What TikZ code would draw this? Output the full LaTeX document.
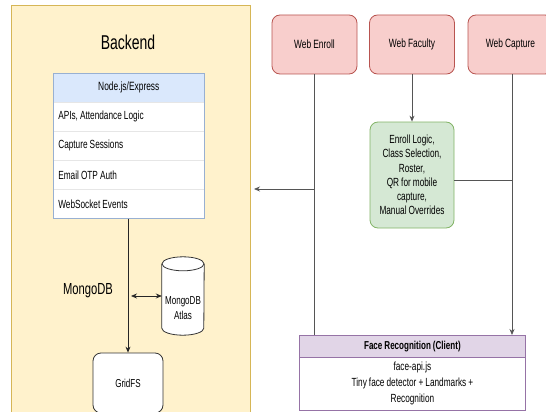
\documentclass[tikz,border=0pt]{standalone}
\usepackage{fontspec}
\setmainfont{Liberation Sans}[FakeStretch=0.7, WordSpace=0.9]
\usetikzlibrary{arrows.meta,calc}
\definecolor{bkfill}{HTML}{FFF2CC}
\definecolor{bkline}{HTML}{D6B656}
\definecolor{redfill}{HTML}{F8CECC}
\definecolor{redline}{HTML}{B85450}
\definecolor{grnfill}{HTML}{D5E8D4}
\definecolor{grnline}{HTML}{82B366}
\definecolor{bluefill}{HTML}{DAE8FC}
\definecolor{blueline}{HTML}{6C8EBF}
\definecolor{purfill}{HTML}{E1D5E7}
\definecolor{purline}{HTML}{9673A6}
\definecolor{rowline}{HTML}{E6E6E6}
\definecolor{conn}{HTML}{555555}
\begin{document}
\begin{tikzpicture}[x=1pt,y=-1pt,
  appbox/.style={draw=redline, fill=redfill, line width=0.8pt, rounded corners=8pt,
    minimum width=85pt, minimum height=59pt, inner sep=0pt, font=\fontsize{12}{14}\selectfont},
  rowbox/.style={draw=rowline, fill=white, line width=0.6pt, minimum width=151pt, minimum height=29pt,
    text width=141pt, inner xsep=5pt, inner ysep=0pt, align=left, anchor=north west,
    font=\fontsize{11.8}{14}\selectfont},
  conline/.style={draw=conn, line width=0.8pt},
  arr/.style={conline, -{Stealth[length=6pt,width=5pt]}},
  darr/.style={draw=black!85, line width=0.8pt, {Stealth[length=6pt,width=5pt]}-{Stealth[length=6pt,width=5pt]}}
]
\useasboundingbox (0,0) rectangle (546,412);

% Backend container
\node[draw=bkline, fill=bkfill, line width=0.8pt, minimum width=239pt, minimum height=420pt,
  anchor=north west, inner sep=0pt] (backend) at (11,5) {};
\node[font=\fontsize{20}{24}\selectfont] (backendtitle) at (128,42) {Backend};

% Node.js/Express table
\node[draw=blueline, fill=bluefill, line width=0.6pt, minimum width=151pt, minimum height=29pt,
  anchor=north west, inner sep=0pt, font=\fontsize{12}{14}\selectfont] (nodehead) at (53,73) {Node.js/Express};
\node[rowbox] (row1) at (53,102) {\spaceskip=0pt APIs, Attendance Logic};
\node[rowbox] (row2) at (53,131) {\spaceskip=0pt Capture Sessions};
\node[rowbox] (row3) at (53,160) {\spaceskip=0pt Email OTP Auth};
\node[rowbox] (row4) at (53,189) {\spaceskip=0pt WebSocket Events};
\draw[draw=blueline!70, line width=0.6pt] (nodehead.north west) rectangle (row4.south east);

% MongoDB
\node[font=\fontsize{16}{19}\selectfont] (mongolabel) at (88,291) {MongoDB};
\node[minimum width=42pt, minimum height=78pt, inner sep=0pt] (atlas) at (183,296) {};
\fill[white] ($(atlas.north west)+(0,7)$) -- ($(atlas.south west)+(0,-7)$) arc[start angle=180,end angle=0,x radius=21,y radius=7]
  -- ($(atlas.north east)+(0,7)$) arc[start angle=0,end angle=-180,x radius=21,y radius=7] -- cycle;
\draw[line width=0.8pt, draw=black!80] ($(atlas.north west)+(0,7)$) -- ($(atlas.south west)+(0,-7)$)
  arc[start angle=180,end angle=0,x radius=21,y radius=7] -- ($(atlas.north east)+(0,7)$);
\draw[line width=0.8pt, draw=black!80] ($(atlas.north)+(0,7)$) ellipse[x radius=21, y radius=7];
\node[align=center, font=\fontsize{11.5}{15}\selectfont, inner sep=0pt] (atlastext) at (183,308) {MongoDB\\Atlas};

% GridFS
\node[draw=black!80, fill=white, line width=0.8pt, rounded corners=8pt, minimum width=70pt, minimum height=60pt,
  inner sep=0pt, font=\fontsize{11.5}{14}\selectfont] (gridfs) at (128,383) {GridFS};

\draw[arr, draw=black!85] (row4.south -| gridfs.north) -- (gridfs.north);
\coordinate (mjoin) at (131,296);
\draw[darr] (mjoin) -- (atlas.west);

% Web apps
\node[appbox] (enroll) at (314.5,44.5) {Web Enroll};
\node[appbox] (faculty) at (412,44.5) {Web Faculty};
\node[appbox] (capture) at (510.5,44.5) {Web Capture};

% Green logic box
\node[draw=grnline, fill=grnfill, line width=0.8pt, rounded corners=8pt, minimum width=84pt, minimum height=106pt,
  inner sep=0pt, align=center, font=\fontsize{11.8}{14.2}\selectfont] (logic) at (412,175)
  {Enroll Logic,\\Class Selection,\\Roster,\\QR for mobile\\capture,\\Manual Overrides};

% Face recognition
\node[draw=purline, fill=purfill, line width=0.8pt, minimum width=226pt, minimum height=22pt, anchor=north west,
  inner sep=0pt, font=\bfseries\fontsize{11.5}{14}\selectfont] (facehead) at (299,335) {Face Recognition (Client)};
\node[draw=purline, fill=white, line width=0.8pt, minimum width=226pt, minimum height=53pt, anchor=north west,
  inner sep=0pt, align=center, font=\fontsize{11.8}{16}\selectfont] (facebody) at (299,357)
  {face-api.js\\Tiny face detector + Landmarks +\\Recognition};

% Connectors
\draw[arr] (faculty.south) -- (logic.north);
\draw[conline] (enroll.south) -- (enroll.south |- facehead.north);
\coordinate (enrolljoin) at (enroll.south |- 0,189);
\coordinate (backendin) at (254,189);
\draw[arr] (enrolljoin) -- (backendin);
\coordinate (capturecol) at (512,74);
\draw[arr] (capturecol) -- (capturecol |- facehead.north);
\draw[conline] (logic.east |- 0,180) -- (capturecol |- 0,180);
\end{tikzpicture}
\end{document}
